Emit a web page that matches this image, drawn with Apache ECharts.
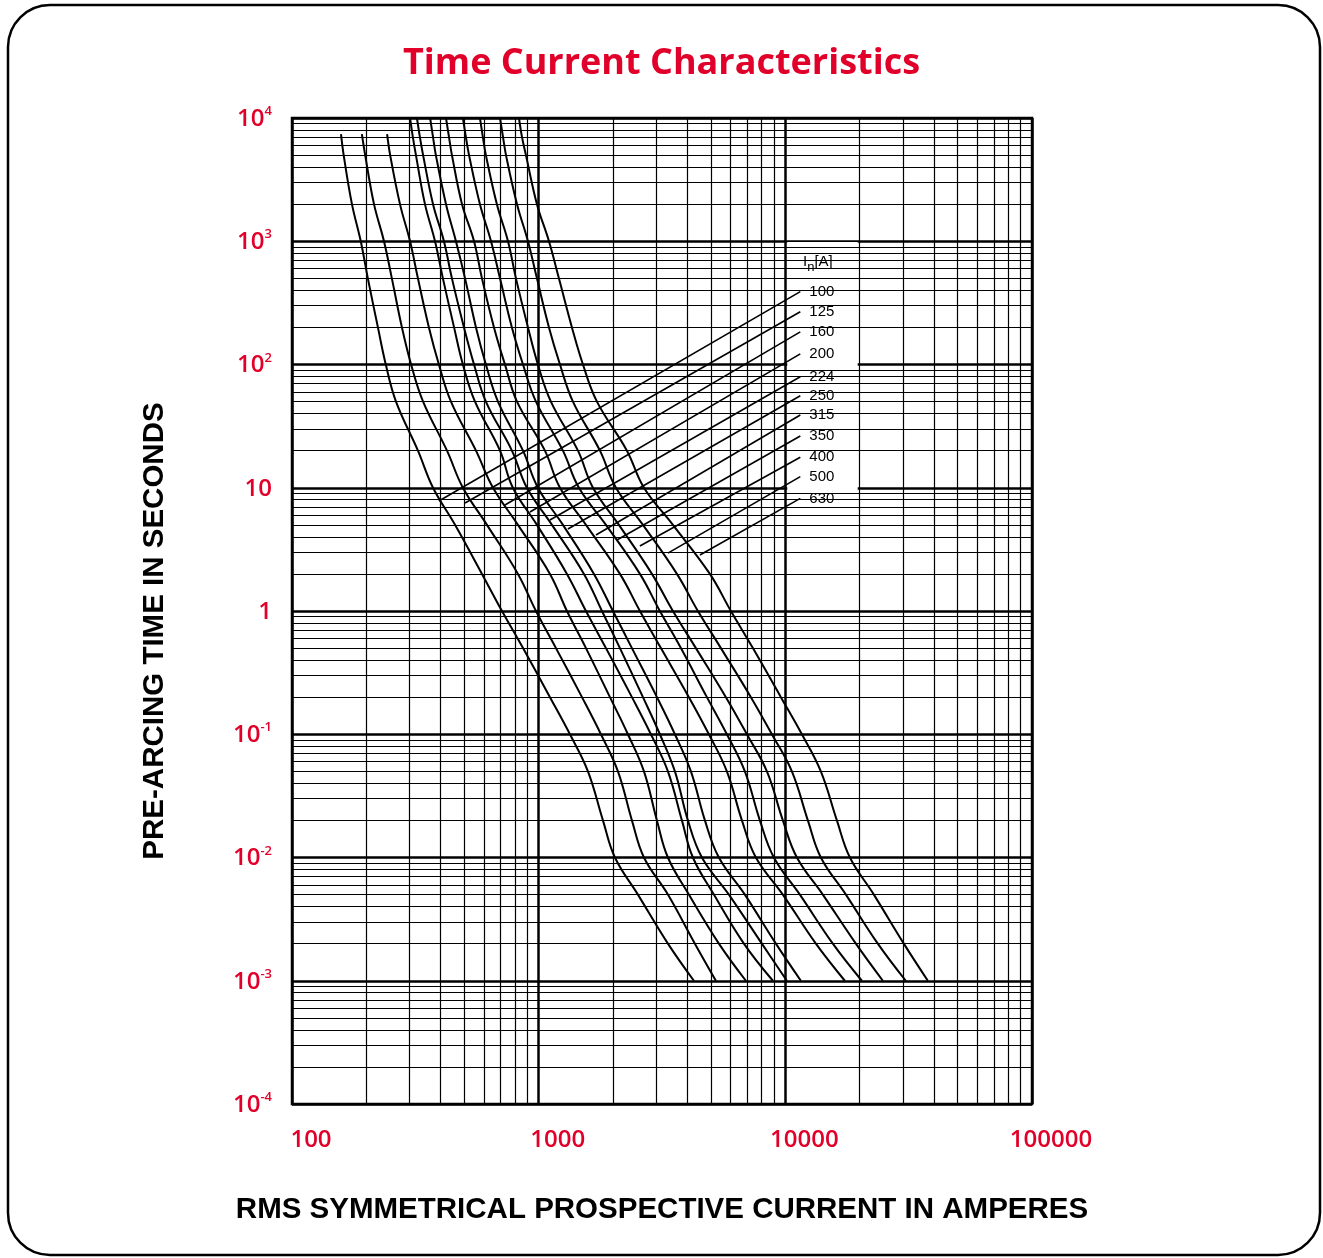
<!DOCTYPE html>
<html><head><meta charset="utf-8">
<script src="https://cdn.jsdelivr.net/npm/echarts@6/dist/echarts.min.js"></script>
<style>html,body{margin:0;padding:0;background:#fff;}#c{width:1323px;height:1258px;}</style>
</head><body><div id="c"></div>
<script>
// ---- data ----
const ratings = ['100','125','160','200','224','250','315','350','400','500','630'];
const timesShort = [7400,5000,2000,1000,500,200,100,50,20,10,5,2,1,0.5,0.2,0.1,0.05,0.02,0.01,0.005,0.002,0.001];
const timesLong = [10000,7000,5000,2000,1000,500,200,100,50,20,10,5,2,1,0.5,0.2,0.1,0.05,0.02,0.01,0.005,0.002,0.001];
const i100 = [158,162,175,190,203,223,240,264,324,373,458,589,710,864,1111,1339,1584,1822,2038,2526,3342,4259];
const i125 = [192,198,215,236,254,279,304,340,425,493,617,824,975,1175,1498,1788,2096,2388,2672,3342,4299,5230];
const i160 = [243,250,274,301,324,359,394,441,557,653,824,1111,1302,1555,1945,2300,2672,3016,3342,4064,5378,6920];
const i200 = [301,309,318,346,380,409,454,493,552,697,786,984,1302,1555,1874,2388,2851,3342,3808,4220,5133,6792,8904];
const i224 = [321,330,340,373,413,445,498,547,611,779,896,1132,1526,1805,2135,2647,3100,3567,4027,4590,5905,8034,10144];
const i250 = [363,373,383,421,462,503,557,611,684,864,993,1254,1675,2000,2388,3016,3567,4142,4720,5378,6855,9156,11561];
const i315 = [421,433,445,489,547,589,659,730,817,1060,1220,1555,2135,2573,3130,4064,4898,5794,6668,7596,9772,13300,17430];
const i350 = [493,507,522,578,641,697,779,864,975,1254,1456,1874,2573,3100,3772,4808,5794,6855,7884,8985,11455,15580,20430];
const i400 = [578,594,611,677,751,809,905,993,1121,1443,1660,2115,2878,3501,4339,5741,6985,8420,9772,11140,14190,19320,24850];
const i500 = [697,717,737,817,905,984,1101,1220,1377,1772,2057,2647,3634,4421,5479,7250,8820,10630,12340,13930,17600,23710,30790];
const i630 = [832,856,888,984,1101,1208,1364,1512,1723,2279,2672,3501,4944,6015,7386,9592,11670,13930,16180,18270,22850,30220,37820];
// leader lines: point on curve -> label anchor
const leaderCurveI = [394,503,730,922,1111,1314,1707,2076,2573,3342,4504];
const leaderCurveT = [7.81,7.52,7.24,6.36,5.47,4.63,4.14,3.77,3.37,2.95,2.85];
const leaderLabelI = 11500;
const leaderLabelT = [390,268,184,122,79.6,55.8,38.9,26.3,17.7,12.3,8.2];
// axis range and minor grid
const xMin = 100, xMax = 100000, yMin = 0.0001, yMax = 10000;
const xMinor = [200,300,400,500,600,700,800,900,2000,3000,4000,5000,6000,7000,8000,9000,20000,30000,40000,50000,60000,70000,80000,90000];
const yDecades = [-4,-3,-2,-1,0,1,2,3];
const yMult = [2,3,4,5,6,7,8,9];

// ---- build ----
const red = '#E1002A';
const curveCurrents = [i100,i125,i160,i200,i224,i250,i315,i350,i400,i500,i630];
const yMinor = [];
yDecades.forEach(e => yMult.forEach(m => yMinor.push(+(m * Math.pow(10, e)).toPrecision(3))));

const gridLines = xMinor.map(v => ({coords: [[v, yMin], [v, yMax]]}))
  .concat(yMinor.map(v => ({coords: [[xMin, v], [xMax, v]]})));

const series = [];
series.push({
  type: 'lines', coordinateSystem: 'cartesian2d', z: 1, silent: true, animation: false,
  polyline: false, lineStyle: {color: '#000', width: 1.2, opacity: 1},
  data: gridLines
});
series.push({
  type: 'line', data: [], z: 2, silent: true,
  markArea: {silent: true, animation: false, itemStyle: {color: '#fff'},
    data: [[{xAxis: 10180, yAxis: 6.1}, {xAxis: 19650, yAxis: 985}]]}
});
curveCurrents.forEach((arr, k) => {
  const ts = arr.length === timesShort.length ? timesShort : timesLong;
  series.push({
    type: 'line', name: ratings[k], z: 3, showSymbol: false, smooth: 0.4, clip: true,
    lineStyle: {color: '#000', width: 2}, animation: false,
    data: arr.map((v, j) => [v, ts[j]])
  });
});
ratings.forEach((r, k) => {
  series.push({
    type: 'line', z: 4, showSymbol: false, animation: false,
    lineStyle: {color: '#000', width: 1.6},
    data: [[leaderCurveI[k], leaderCurveT[k]], [leaderLabelI, leaderLabelT[k]]],
    endLabel: {show: true, formatter: r, color: '#000', fontSize: 15, distance: 9,
      fontFamily: 'Liberation Sans'}
  });
});

function yFmt(v) {
  const e = Math.round(Math.log10(v));
  if (e === 0) return '{n|1}';
  if (e === 1) return '{n|10}';
  return '{n|10}{s|' + e + '}';
}

const option = {
  animation: false,
  backgroundColor: '#fff',
  title: {text: 'Time Current Characteristics', left: 'center', top: 41,
    textStyle: {color: red, fontSize: 36, fontWeight: 'bold', fontFamily: 'Open Sans'}},
  grid: {left: 292, top: 118, width: 740, height: 986, show: true, borderColor: '#000', borderWidth: 2.5},
  xAxis: {
    type: 'log', logBase: 10, min: xMin, max: xMax,
    name: 'RMS SYMMETRICAL PROSPECTIVE CURRENT IN AMPERES', nameLocation: 'middle', nameGap: 91,
    nameTextStyle: {color: '#000', fontSize: 29.5, fontWeight: 'bold', fontFamily: 'Liberation Sans'},
    axisLine: {show: false}, axisTick: {show: false},
    splitLine: {show: true, lineStyle: {color: '#000', width: 2.5}},
    axisLabel: {color: red, fontSize: 24, fontFamily: 'Open Sans', fontWeight: 600, margin: 24,
      padding: [0, 0, 0, 38], formatter: v => String(Math.round(v))}
  },
  yAxis: {
    type: 'log', logBase: 10, min: yMin, max: yMax,
    name: 'PRE-ARCING TIME IN SECONDS', nameLocation: 'middle', nameRotate: 90, nameGap: 122,
    nameTextStyle: {color: '#000', fontSize: 29.5, fontWeight: 'bold', fontFamily: 'Liberation Sans', padding: [0, 40, 0, 0]},
    axisLine: {show: false}, axisTick: {show: false},
    splitLine: {show: true, lineStyle: {color: '#000', width: 2.5}},
    axisLabel: {color: red, margin: 20, formatter: yFmt,
      rich: {n: {fontSize: 24, fontFamily: 'Open Sans', fontWeight: 600, color: red, lineHeight: 26, verticalAlign: 'bottom'},
             s: {fontSize: 13, fontFamily: 'Open Sans', fontWeight: 600, color: red, lineHeight: 26, verticalAlign: 'top', padding: [0,0,8,0]}}}
  },
  graphic: [
    {type: 'rect', shape: {x: 8, y: 5, width: 1312, height: 1250, r: 42}, style: {fill: 'none', stroke: '#000', lineWidth: 2.5}, z: 0, silent: true},
    {type: 'text', left: 803, top: 254, z: 10, silent: true,
      style: {text: '{a|I}{b|n}{a|[A]}', rich: {
        a: {fontSize: 15, fontFamily: 'Liberation Sans', fill: '#000', lineHeight: 16, verticalAlign: 'top'},
        b: {fontSize: 13, fontFamily: 'Liberation Sans', fill: '#000', lineHeight: 16, padding: [7, 0, 0, 0], verticalAlign: 'top'}}}}
  ],
  series: series
};
const chart = echarts.init(document.getElementById('c'));
chart.setOption(option);
</script></body></html>
